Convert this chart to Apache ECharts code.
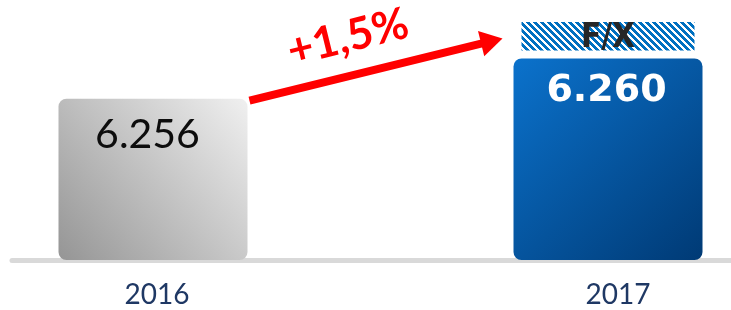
<!DOCTYPE html>
<html>
<head>
<meta charset="utf-8">
<script src="https://cdn.jsdelivr.net/npm/echarts@6/dist/echarts.min.js"></script>
<style>
  html, body { margin: 0; padding: 0; background: #fff; }
  #chart { width: 731px; height: 310px; }
</style>
</head>
<body>
<div id="chart"></div>
<script>
const years = ['2016', '2017'];
const values = [6256, 6260];
const valueLabels = ['6.256', '6.260'];
const fxValues = ['-', 4.4];
const fxLabel = 'F/X';
const growthLabel = '+1,5%';

const barWidth = 189;

// diagonal hatch for the F/X block
const makeHatch = () => {
    const size = 7;
    const c = document.createElement('canvas');
    c.width = size;
    c.height = size;
    const ctx = c.getContext('2d');
    ctx.fillStyle = '#ffffff';
    ctx.fillRect(0, 0, size, size);
    ctx.fillStyle = '#0070c0';
    for (let x = 0; x < size; x++) {
        for (let y = 0; y < size; y++) {
            if (((x - y) % size + size) % size < 4) ctx.fillRect(x, y, 1, 1);
        }
    }
    return c;
};

const grayGrad = new echarts.graphic.LinearGradient(1, 0, 0, 1, [
    { offset: 0, color: '#f0f0f0' },
    { offset: 1, color: '#959595' }
]);
const blueGrad = new echarts.graphic.LinearGradient(0, 0, 1, 1, [
    { offset: 0, color: '#0b72cc' },
    { offset: 1, color: '#003a75' }
]);

const labelStyles = [
    { position: [89, 36], fontFamily: 'Lato', fontSize: 41, color: '#0d0d0d' },
    { position: [93, 33], fontFamily: 'DejaVu Sans', fontWeight: 'bold', fontSize: 38, color: '#ffffff' }
];

var myChart = echarts.init(document.getElementById('chart'));

const option = {
    animation: false,
    grid: [
        { left: -74.5, right: -104.5, top: 8, bottom: 50, outerBoundsMode: 'none' },
        { left: 12, right: 0, top: 8, bottom: 50, outerBoundsMode: 'none' }
    ],
    xAxis: [
        {
            type: 'category',
            gridIndex: 0,
            data: years,
            offset: 6,
            axisLine: { show: false },
            axisTick: { show: false },
            axisLabel: {
                margin: 15,
                formatter: (v, i) => '{y' + i + '|' + v + '}',
                rich: {
                    y0: { color: '#1f3864', fontFamily: 'Lato', fontSize: 28, padding: [0, 0, 0, 8] },
                    y1: { color: '#1f3864', fontFamily: 'Lato', fontSize: 28, padding: [0, 0, 0, 20] }
                }
            }
        },
        {
            type: 'category',
            gridIndex: 1,
            data: [''],
            offset: 6,
            axisLine: { lineStyle: { color: '#d9d9d9', width: 5 } },
            axisTick: { show: false },
            axisLabel: { show: false }
        }
    ],
    yAxis: [
        { type: 'value', gridIndex: 0, min: 6240, max: 6265, show: false },
        { type: 'value', gridIndex: 1, show: false }
    ],
    series: [
        {
            type: 'bar',
            stack: 'total',
            barWidth: barWidth,
            z: 3,
            data: values.map((v, i) => ({
                value: v,
                itemStyle: {
                    color: i === 0 ? grayGrad : blueGrad,
                    borderRadius: 8
                },
                label: Object.assign({
                    show: true,
                    formatter: valueLabels[i],
                    align: 'center',
                    verticalAlign: 'middle'
                }, labelStyles[i])
            }))
        },
        {
            type: 'bar',
            stack: 'total',
            barWidth: barWidth,
            z: 2,
            itemStyle: {
                color: { image: makeHatch(), repeat: 'repeat' },
                borderColor: '#ffffff',
                borderWidth: 8
            },
            label: {
                show: true,
                position: 'inside',
                offset: [0, 2],
                formatter: fxLabel,
                fontFamily: 'DejaVu Sans Condensed',
                fontWeight: 'bold',
                fontSize: 33,
                color: '#262626'
            },
            data: fxValues
        }
    ]
};
myChart.setOption(option);

// growth arrow from the 2016 bar to the 2017 bar
const p0 = myChart.convertToPixel({ xAxisIndex: 0, yAxisIndex: 0 }, [years[0], values[0]]);
const p1 = myChart.convertToPixel({ xAxisIndex: 0, yAxisIndex: 0 }, [years[1], values[1]]);
const start = [p0[0] + barWidth / 2 + 2, p0[1] + 2];
const tip = [p1[0] - barWidth / 2 - 11, p1[1] - 20];
const dx = tip[0] - start[0];
const dy = tip[1] - start[1];
const len = Math.sqrt(dx * dx + dy * dy);
const ux = dx / len, uy = dy / len;
const headLen = 22, headHalf = 13;
const base = [tip[0] - ux * headLen, tip[1] - uy * headLen];
const mid = [(start[0] + tip[0]) / 2, (start[1] + tip[1]) / 2];

myChart.setOption({
    graphic: [
        {
            type: 'line',
            z: 10,
            shape: { x1: start[0], y1: start[1], x2: base[0] + ux * 2, y2: base[1] + uy * 2 },
            style: { stroke: '#ff0000', lineWidth: 8 }
        },
        {
            type: 'polygon',
            z: 10,
            shape: {
                points: [
                    tip,
                    [base[0] - uy * headHalf, base[1] + ux * headHalf],
                    [base[0] + uy * headHalf, base[1] - ux * headHalf]
                ]
            },
            style: { fill: '#ff0000' }
        },
        {
            type: 'text',
            z: 10,
            x: mid[0] - 28,
            y: mid[1] - 32,
            rotation: -Math.atan2(dy, dx),
            style: {
                text: growthLabel,
                fill: '#ff0000',
                font: 'bold 44px Lato',
                align: 'center',
                verticalAlign: 'middle'
            }
        }
    ]
});
</script>
</body>
</html>
